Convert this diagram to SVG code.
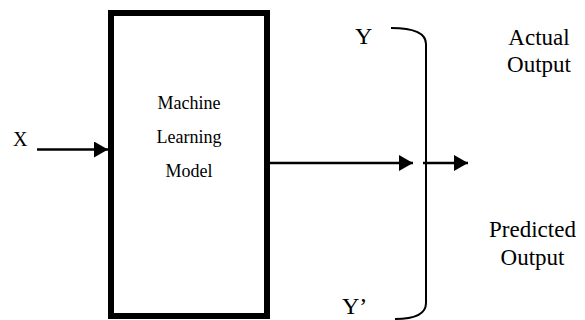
<svg xmlns="http://www.w3.org/2000/svg" width="585" height="320" viewBox="0 0 585 320">
  <defs>
    <marker id="arrow" markerUnits="userSpaceOnUse" markerWidth="15" markerHeight="16" refX="14" refY="8" orient="auto">
      <path d="M0,0 L14,8 L0,16 z" fill="#000"/>
    </marker>
    <style>
      .box { fill: #fff; stroke: #000; stroke-width: 6; }
      .conn { stroke: #000; stroke-width: 2.5; fill: none; }
      .brace { stroke: #000; stroke-width: 2; fill: none; }
      .lbl { font-size: 23px; text-anchor: middle; }
      .var { font-size: 24px; }
      .model { font-size: 18px; text-anchor: middle; }
    </style>
  </defs>
  <rect width="585" height="320" fill="#fff"/>

  <g font-family="'Liberation Serif', Tinos, 'DejaVu Serif', 'Times New Roman', serif" fill="#000">
  <g id="input-x">
    <text x="13" y="146" font-size="20">X</text>
  </g>

  <g id="model">
    <rect class="box" x="111" y="13" width="156" height="303"/>
    <text class="model" x="189" y="109">Machine</text>
    <text class="model" x="189" y="143">Learning</text>
    <text class="model" x="189" y="177">Model</text>
  </g>

  <g id="outputs">
    <path class="brace" d="M391 28 C412 28 426 32 426 44 L426 303 C426 314 414 319 395 319"/>
    <text class="var" x="355" y="44">Y</text>
    <text class="var" x="342" y="314">Y’</text>
  </g>

  <g id="actual-output">
    <text class="lbl" x="539" y="45">Actual</text>
    <text class="lbl" x="539" y="72">Output</text>
  </g>

  <g id="predicted-output">
    <text class="lbl" x="532.5" y="237">Predicted</text>
    <text class="lbl" x="532.5" y="265">Output</text>
  </g>
  </g>

  <g id="connectors">
    <line class="conn" x1="37" y1="149.5" x2="108" y2="149.5" marker-end="url(#arrow)"/>
    <line class="conn" x1="270" y1="163" x2="413" y2="163" marker-end="url(#arrow)"/>
    <line class="conn" x1="423" y1="163" x2="468" y2="163" marker-end="url(#arrow)"/>
  </g>
</svg>
